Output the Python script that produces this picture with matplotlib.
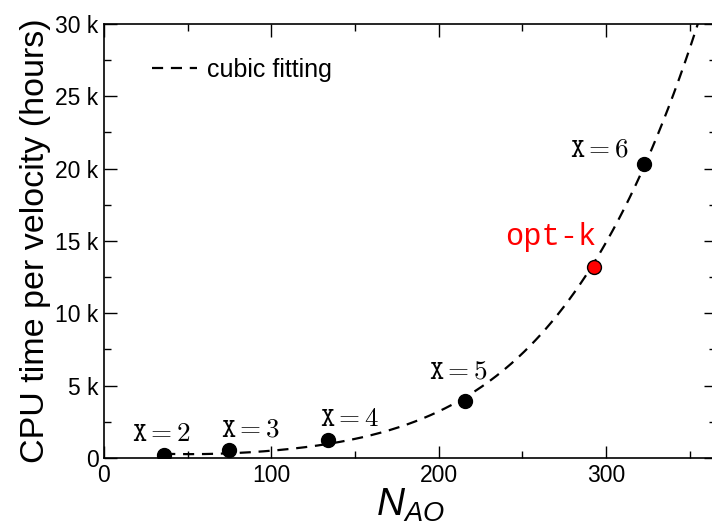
import numpy as np
import matplotlib
matplotlib.use("Agg")
import matplotlib.pyplot as plt
from matplotlib.ticker import FuncFormatter, MultipleLocator

plt.rcParams['font.family'] = ['Liberation Sans', 'DejaVu Sans']
plt.rcParams['mathtext.fontset'] = 'custom'
plt.rcParams['mathtext.it'] = 'Liberation Sans:italic'
plt.rcParams['mathtext.rm'] = 'Liberation Sans'

# data (N_AO, CPU hours per velocity)
n_ao = [36, 75, 134, 216, 323]
cpu_hours = [200, 550, 1250, 3950, 20300]
point_labels = ["2", "3", "4", "5", "6"]
label_pos = [(34.7, 1660), (87.9, 2000), (147, 2700), (212, 6000), (296.5, 21300)]
optk_n = 293
optk_hours = 13200
optk_label_pos = (267, 15300)

# points
curve_n = [35, 75, 99, 133, 167, 197, 216, 261, 293, 323, 355]
curve_hours = [280, 370, 480, 900, 1820, 3200, 3940, 8850, 13200, 20300, 30000]

coef = np.polyfit(curve_n, curve_hours, 4)
curve_x = np.linspace(min(n_ao), 366, 300)
curve_y = np.polyval(coef, curve_x)

fig = plt.figure(figsize=(7.12, 5.27), dpi=100)
ax = fig.add_axes([0.146, 0.131, 0.86, 0.8235])

ax.plot(curve_x, curve_y, 'k--', lw=1.6, dashes=(5, 3.5), label='cubic fitting', zorder=2)
ax.plot(n_ao, cpu_hours, 'o', color='black', ms=10, zorder=3)
ax.plot([optk_n], [optk_hours], 'o', color='red', mec='black', mew=1.0, ms=10, zorder=3)

for lab, (tx, ty) in zip(point_labels, label_pos):
    ax.text(tx, ty, r'$\mathtt{X}=' + lab + '$', math_fontfamily='cm', fontsize=19.5,
            ha='center', va='center')
ax.text(optk_label_pos[0], optk_label_pos[1], 'opt-k', family='Liberation Mono', fontsize=22,
        color='red', ha='center', va='center')

ax.set_xlim(0, 366)
ax.set_ylim(0, 30000)
ax.xaxis.set_major_locator(MultipleLocator(100))
ax.xaxis.set_minor_locator(MultipleLocator(50))
ax.yaxis.set_major_locator(MultipleLocator(5000))
ax.yaxis.set_minor_locator(MultipleLocator(2500))
ax.yaxis.set_major_formatter(FuncFormatter(lambda v, p: "0" if v == 0 else "%d k" % round(v / 1000)))
ax.tick_params(which='both', direction='in', top=True, right=True, labelsize=16.5, width=1)
ax.tick_params(which='major', length=9, pad=4)
ax.tick_params(which='minor', length=5)
for s in ax.spines.values():
    s.set_linewidth(1.2)

ax.set_xlabel(r'$N_{AO}$', fontsize=28, labelpad=0)
ax.set_ylabel('CPU time per velocity (hours)', fontsize=24.5, labelpad=3)

ax.legend(loc='upper left', bbox_to_anchor=(0.078, 0.922), frameon=False, fontsize=18,
          borderpad=0, borderaxespad=0, handlelength=1.8, handletextpad=0.4)

fig.savefig("out.png", dpi=100)
